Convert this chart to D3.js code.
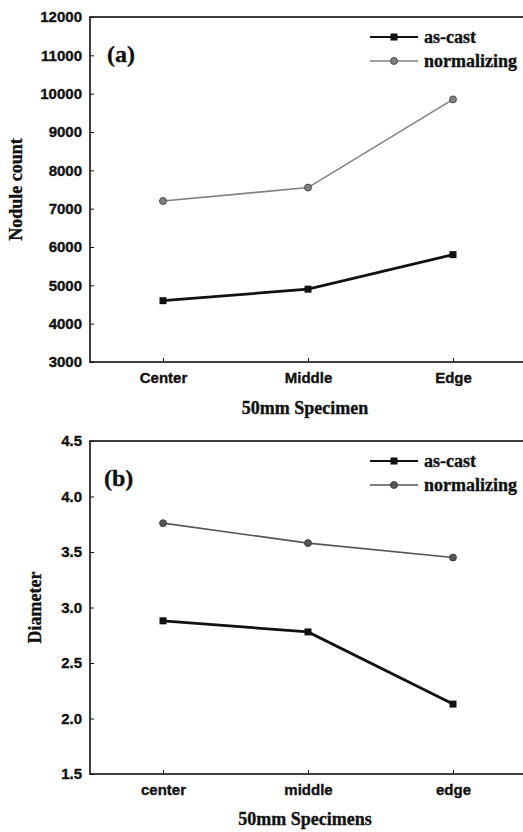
<!DOCTYPE html>
<html>
<head>
<meta charset="utf-8">
<script src="https://cdn.jsdelivr.net/npm/d3@7"></script>
<style>
  body { margin: 0; background: #fff; }
  svg { display: block; }
  text { stroke: #111; stroke-width: 0.35px; }
</style>
</head>
<body>
<svg id="chart" width="523" height="832"></svg>
<script>
// panel (a) - nodule count
var catsA = ['Center', 'Middle', 'Edge']
var castA = [4600, 4900, 5800]
var normA = [7200, 7550, 9850]
var ticksA = [3000, 4000, 5000, 6000, 7000, 8000, 9000, 10000, 11000, 12000]

// panel (b) - diameter
var catsB = ['center', 'middle', 'edge']
var castB = [2.88, 2.78, 2.13]
var normB = [3.76, 3.58, 3.45]
var ticksB = [1.5, 2.0, 2.5, 3.0, 3.5, 4.0, 4.5]

var svg = d3.select('#chart')
var serif = '"Liberation Serif", "Times New Roman", serif'
var sans = '"Liberation Sans", Arial, sans-serif'

function drawPanel(opt) {
    var left = 90, right = 530
    var x = d3.scalePoint().domain(opt.cats).range([163, 453])
    var y = d3.scaleLinear().domain(opt.domain).range([opt.bottom, opt.top])
    var g = svg.append('g')

    // frame
    g.append('rect').attr('x', left).attr('y', opt.top)
        .attr('width', right - left).attr('height', opt.bottom - opt.top)
        .attr('fill', 'none').attr('stroke', '#111').attr('stroke-width', 1.6)

    // y axis (inward ticks)
    var yAxis = d3.axisLeft(y).tickValues(opt.ticks).tickSizeInner(-4).tickSizeOuter(0)
        .tickPadding(8).tickFormat(opt.fmt)
    var gy = g.append('g').attr('transform', `translate(${left},0)`).call(yAxis)
    gy.select('.domain').remove()
    gy.selectAll('text').attr('font-family', sans).attr('font-weight', 'bold')
        .attr('font-size', 15).attr('fill', '#111')
    gy.selectAll('line').attr('stroke', '#111')

    // x axis
    var xAxis = d3.axisBottom(x).tickSizeInner(-4).tickSizeOuter(0).tickPadding(10)
    var gx = g.append('g').attr('transform', `translate(0,${opt.bottom})`).call(xAxis)
    gx.select('.domain').remove()
    gx.selectAll('text').attr('font-family', sans).attr('font-weight', 'bold')
        .attr('font-size', 15).attr('fill', '#111')
    gx.selectAll('line').attr('stroke', '#111')

    // axis titles
    g.append('text').attr('x', 305).attr('y', opt.bottom + opt.titleGap)
        .attr('text-anchor', 'middle').attr('font-family', serif).attr('font-weight', 'bold')
        .attr('font-size', 18).attr('fill', '#111').text(opt.xTitle)
    var cy = (opt.top + opt.bottom) / 2
    g.append('text').attr('transform', `translate(${opt.yTitleX},${cy}) rotate(-90)`)
        .attr('text-anchor', 'middle').attr('font-family', serif).attr('font-weight', 'bold')
        .attr('font-size', 18).attr('fill', '#111').text(opt.yTitle)

    // panel letter
    g.append('text').attr('x', opt.labelX).attr('y', opt.top + 45)
        .attr('font-family', serif).attr('font-weight', 'bold')
        .attr('font-size', 24).attr('fill', '#111').text(opt.label)

    var line = d3.line().x((d, i) => x(opt.cats[i])).y(d => y(d))

    // normalizing
    g.append('path').datum(opt.norm).attr('d', line).attr('fill', 'none')
        .attr('stroke', opt.normColor).attr('stroke-width', 1.6)
    g.selectAll('.nm').data(opt.norm).join('circle')
        .attr('cx', (d, i) => x(opt.cats[i])).attr('cy', d => y(d)).attr('r', 3.5)
        .attr('fill', opt.normColor).attr('stroke', '#333').attr('stroke-width', 0.8)

    // as-cast
    g.append('path').datum(opt.cast).attr('d', line).attr('fill', 'none')
        .attr('stroke', '#111').attr('stroke-width', 2.8)
    g.selectAll('.cm').data(opt.cast).join('rect')
        .attr('x', (d, i) => x(opt.cats[i]) - 3.5).attr('y', d => y(d) - 3.5)
        .attr('width', 7).attr('height', 7).attr('fill', '#111')

    // legend
    var lx0 = 370, lx1 = 418, lm = 394
    var ly1 = opt.top + 20, ly2 = opt.top + 44
    g.append('line').attr('x1', lx0).attr('x2', lx1).attr('y1', ly1).attr('y2', ly1)
        .attr('stroke', '#111').attr('stroke-width', 2.2)
    g.append('rect').attr('x', lm - 3.5).attr('y', ly1 - 3.5).attr('width', 7).attr('height', 7)
        .attr('fill', '#111')
    g.append('text').attr('x', 424).attr('y', ly1 + 6).attr('font-family', serif)
        .attr('font-weight', 'bold').attr('font-size', 18).attr('fill', '#111').text('as-cast')
    g.append('line').attr('x1', lx0).attr('x2', lx1).attr('y1', ly2).attr('y2', ly2)
        .attr('stroke', opt.normColor).attr('stroke-width', 1.6)
    g.append('circle').attr('cx', lm).attr('cy', ly2).attr('r', 3.5)
        .attr('fill', opt.normColor).attr('stroke', '#333').attr('stroke-width', 0.8)
    g.append('text').attr('x', 424).attr('y', ly2 + 6).attr('font-family', serif)
        .attr('font-weight', 'bold').attr('font-size', 18).attr('fill', '#111').text('normalizing')
}

drawPanel({
    cats: catsA, cast: castA, norm: normA, ticks: ticksA,
    domain: [3000, 12000], top: 17, bottom: 362, fmt: d3.format('d'),
    xTitle: '50mm Specimen', yTitle: 'Nodule count', yTitleX: 22, titleGap: 52,
    label: '(a)', labelX: 107, normColor: '#808080'
})

drawPanel({
    cats: catsB, cast: castB, norm: normB, ticks: ticksB,
    domain: [1.5, 4.5], top: 441, bottom: 774, fmt: d3.format('.1f'),
    xTitle: '50mm Specimens', yTitle: 'Diameter', yTitleX: 41, titleGap: 51,
    label: '(b)', labelX: 104, normColor: '#555'
})
</script>
</body>
</html>
